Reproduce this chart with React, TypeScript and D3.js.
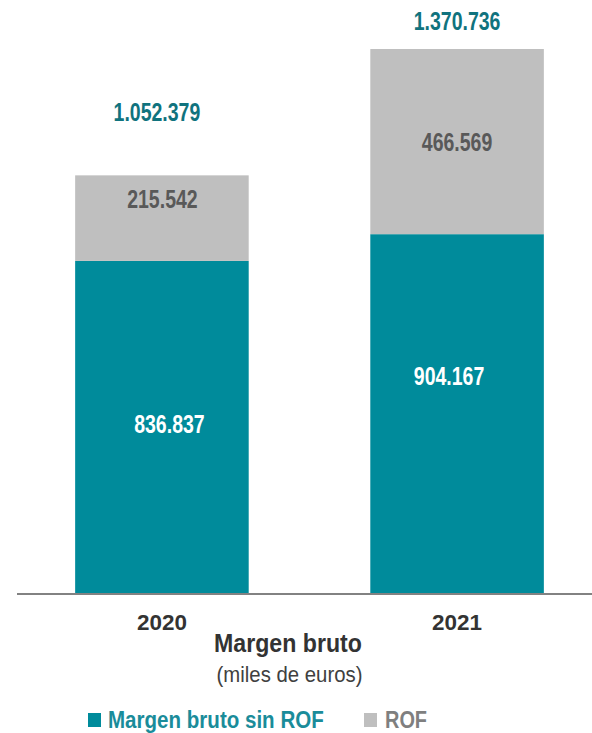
import React from "react";
import * as d3 from "d3";

const categories = ["2020", "2021"];
const margenSinROF = [836837, 904167];
const rof = [215542, 466569];
const totals = [1052379, 1370736];
const seriesNames = ["Margen bruto sin ROF", "ROF"];

const W = 592;
const H = 733;
const FONT = "'Liberation Sans', Arial, sans-serif";
const TEAL = "#008B9B";
const GRAY = "#BFBFBF";

// label layout tweaks (px)
const totalDx = [-5, 0];
const totalDy = [-54, -19];
const rofDx = [0.5, 0];
const rofDy = [-10, 9];
const tealDx = [7.5, -8];
const tealDy = [6, -29];

const fmt = (v: number) => d3.format(",")(v).replace(/,/g, ".");

function NText(props: {
  x: number;
  y: number;
  size: number;
  fill: string;
  sx?: number;
  bold?: boolean;
  anchor?: "start" | "middle" | "end";
  children: React.ReactNode;
}) {
  const { x, y, size, fill, sx = 0.78, bold = true, anchor = "middle", children } = props;
  return (
    <text
      transform={`translate(${x},${y}) scale(${sx},1)`}
      textAnchor={anchor}
      fontFamily={FONT}
      fontWeight={bold ? "bold" : "normal"}
      fontSize={size}
      fill={fill}
    >
      {children}
    </text>
  );
}

export default function App() {
  const x = d3.scaleBand<string>().domain(categories).range([17, 602]).paddingInner(0.412).paddingOuter(0.197);
  const y = d3.scaleLinear().domain([0, 1400000]).range([593, 37.4]);
  const bw = x.bandwidth();

  return (
    <svg width={W} height={H} style={{ position: "absolute", left: 0, top: 0 }}>
      <rect width={W} height={H} fill="#fff" />
      {categories.map((c, i) => {
        const x0 = x(c)!;
        const cx = x0 + bw / 2;
        const yTeal = y(margenSinROF[i]);
        const yTop = y(margenSinROF[i] + rof[i]);
        return (
          <g key={c}>
            <rect x={x0} y={yTeal} width={bw} height={y(0) - yTeal} fill={TEAL} />
            <rect x={x0} y={yTop} width={bw} height={yTeal - yTop} fill={GRAY} />
            <NText x={cx + tealDx[i]} y={(yTeal + y(0)) / 2 + tealDy[i]} size={25} fill="#fff">
              {fmt(margenSinROF[i])}
            </NText>
            <NText x={cx + rofDx[i]} y={(yTop + yTeal) / 2 + rofDy[i]} size={25} fill="#595959">
              {fmt(rof[i])}
            </NText>
            <NText x={cx + totalDx[i]} y={yTop + totalDy[i]} size={25} fill="#10737E">
              {fmt(totals[i])}
            </NText>
            <NText x={cx} y={630} size={22} sx={1.02} fill="#333">
              {c}
            </NText>
          </g>
        );
      })}
      <line x1={17} x2={W} y1={594} y2={594} stroke="#595959" strokeWidth={1.5} />
      <NText x={288} y={652} size={26} sx={0.89} fill="#333">
        Margen bruto
      </NText>
      <NText x={289.5} y={682} size={22} sx={0.925} fill="#404040" bold={false}>
        (miles de euros)
      </NText>
      <rect x={88} y={713} width={13} height={14} fill={TEAL} />
      <NText x={108} y={728} size={24} sx={0.857} fill="#1A8C9A" anchor="start">
        {seriesNames[0]}
      </NText>
      <rect x={364} y={713} width={13} height={14} fill={GRAY} />
      <NText x={385} y={728} size={24} sx={0.83} fill="#7F7F7F" anchor="start">
        {seriesNames[1]}
      </NText>
    </svg>
  );
}
